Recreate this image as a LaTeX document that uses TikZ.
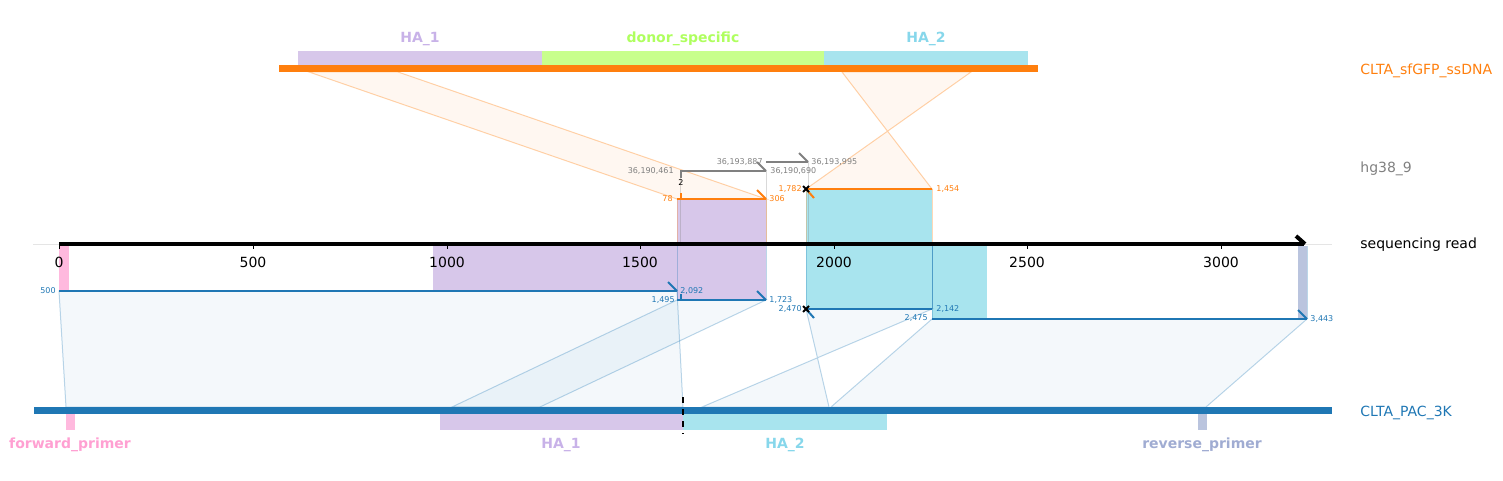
\documentclass[tikz,border=0pt]{standalone}
\usepackage{fontspec}
\setmainfont{DejaVu Sans}
\usetikzlibrary{arrows.meta}
\definecolor{ssorange}{HTML}{FF7F0E}
\definecolor{pacblue}{HTML}{1F77B4}
\definecolor{hggrey}{HTML}{808080}
\definecolor{haone}{RGB}{215,199,234}
\definecolor{haonetext}{RGB}{200,178,232}
\definecolor{donorgreen}{RGB}{200,255,140}
\definecolor{donortext}{RGB}{175,255,95}
\definecolor{hatwo}{RGB}{168,228,238}
\definecolor{hatwotext}{RGB}{135,215,235}
\definecolor{fwdpink}{RGB}{255,185,222}
\definecolor{fwdtext}{RGB}{255,160,210}
\definecolor{revgrey}{RGB}{186,196,222}
\definecolor{revtext}{RGB}{160,172,210}
\tikzset{
  lbl/.style={font=\fontsize{7}{8}\selectfont, inner sep=0pt},
  featlbl/.style={font=\fontsize{7}{8}\selectfont\bfseries, inner sep=0pt},
  tinylbl/.style={font=\fontsize{4}{5}\selectfont, inner sep=0pt},
  alnline/.style={line width=1pt},
  edgeline/.style={line width=0.5pt, draw opacity=0.3},
  orangelink/.style={fill=ssorange, fill opacity=0.06, draw=ssorange, draw opacity=0.35, line width=0.5pt},
  bluelink/.style={fill=pacblue, fill opacity=0.05, draw=pacblue, draw opacity=0.3, line width=0.5pt},
  xmark/.style={line width=1pt, black}
}
\begin{document}
\begin{tikzpicture}[x=0.5pt, y=-0.5pt]
\useasboundingbox (0,0) rectangle (1503,481);

% 1. 读段上的特征阴影
\fill[fwdpink] (59,246) rectangle (69,291);
\fill[haone] (433,246) rectangle (677,291);
\fill[haone] (677,199) rectangle (766,300);
\fill[hatwo] (806,189) rectangle (932,309);
\fill[hatwo] (932,244) rectangle (987,319);
\fill[revgrey] (1298,246) rectangle (1307,319);

% 2. 比对的竖直边界线
\foreach \x/\y in {680/171, 766/171, 808/162}
    {\draw[edgeline, hggrey] (\x,\y) -- (\x,244);}
\foreach \x/\y in {677/199, 766/199, 806/189, 932/189}
    {\draw[edgeline, ssorange] (\x,\y) -- (\x,244);}
\foreach \x/\y in {677/300, 766/300, 806/309, 932/319, 1307/319}
    {\draw[edgeline, pacblue] (\x,246) -- (\x,\y);}
\draw[pacblue, line width=0.5pt, draw opacity=0.5] (932,246) -- (932,309);

% 3. 连接到参考序列的多边形
\draw[orangelink] (309,72) -- (398,72) -- (766,199) -- (677,199) -- cycle;
\draw[orangelink] (842,72) -- (971,72) -- (806,189) -- (932,189) -- cycle;
\draw[bluelink] (59,291) -- (677,291) -- (683,407) -- (66,407) -- cycle;
\draw[bluelink] (677,300) -- (766,300) -- (540,407) -- (452,407) -- cycle;
\draw[bluelink] (806,309) -- (932,309) -- (702,407) -- (829,407) -- cycle;
\draw[bluelink] (932,319) -- (1307,319) -- (1206,407) -- (831,407) -- cycle;

% 4. 读段坐标轴
\draw[gray!20, line width=0.5pt] (33,244) -- (1332,244);
\draw[line width=2pt] (59,244) -- (1304,244);
\draw[line width=2pt] (1296,236) -- (1305,244);
\foreach \loc/\x in
    {59/0, 253/500, 447/1000, 640/1500, 834/2000, 1027/2500, 1221/3000}
    {\draw[black, line width=0.4pt] (\loc,246) -- (\loc,249);
     \node[lbl] (tick\x) at (\loc,262) {\x};
    }

% 5. 参考序列 hg38_9
\draw[alnline, hggrey] (680,171) -- (766,171);
\draw[alnline, hggrey] (757,162) -- (766,171);
\draw[alnline, hggrey] (681,171) -- (681,178);
\node[tinylbl] (hgins) at (681,183) {2};
\draw[alnline, hggrey] (766,162) -- (808,162);
\draw[alnline, hggrey] (799,153) -- (808,162);
\node[tinylbl, hggrey, anchor=east] (hgA) at (674,171) {36,190,461};
\node[tinylbl, hggrey, anchor=west] (hgB) at (770,171) {36,190,690};
\node[tinylbl, hggrey, anchor=east] (hgC) at (763,162) {36,193,887};
\node[tinylbl, hggrey, anchor=west] (hgD) at (811,162) {36,193,995};

% 6. 供体 CLTA_sfGFP_ssDNA 的比对
\draw[alnline, ssorange] (677,199) -- (766,199);
\draw[alnline, ssorange] (681,193) -- (681,199);
\draw[alnline, ssorange] (757,190) -- (766,199);
\draw[alnline, ssorange] (806,189) -- (932,189);
\draw[alnline, ssorange] (806,189) -- (814,198);
\draw[xmark] (803,186) -- (809,192) (803,192) -- (809,186);
\node[tinylbl, ssorange, anchor=east] (ssA) at (673,199) {78};
\node[tinylbl, ssorange, anchor=west] (ssB) at (769,199) {306};
\node[tinylbl, ssorange, anchor=east] (ssC) at (802,189) {1,782};
\node[tinylbl, ssorange, anchor=west] (ssD) at (936,189) {1,454};

% 7. 质粒 CLTA_PAC_3K 的比对
\draw[alnline, pacblue] (59,291) -- (677,291);
\draw[alnline, pacblue] (668,282) -- (677,291);
\draw[alnline, pacblue] (677,300) -- (766,300);
\draw[alnline, pacblue] (681,294) -- (681,300);
\draw[alnline, pacblue] (757,291) -- (766,300);
\draw[alnline, pacblue] (806,309) -- (932,309);
\draw[alnline, pacblue] (806,309) -- (814,318);
\draw[xmark] (803,306) -- (809,312) (803,312) -- (809,306);
\draw[alnline, pacblue] (932,319) -- (1307,319);
\draw[alnline, pacblue] (1298,310) -- (1307,319);
\node[tinylbl, pacblue, anchor=east] (pacA) at (56,291) {500};
\node[tinylbl, pacblue, anchor=west] (pacB) at (680,291) {2,092};
\node[tinylbl, pacblue, anchor=east] (pacC) at (675,300) {1,495};
\node[tinylbl, pacblue, anchor=west] (pacD) at (769,300) {1,723};
\node[tinylbl, pacblue, anchor=east] (pacE) at (802,309) {2,470};
\node[tinylbl, pacblue, anchor=west] (pacF) at (936,309) {2,142};
\node[tinylbl, pacblue, anchor=east] (pacG) at (928,318) {2,475};
\node[tinylbl, pacblue, anchor=west] (pacH) at (1310,319) {3,443};

% 8. 上方的 ssDNA 参考条
\fill[haone] (298,51) rectangle (542,65);
\fill[donorgreen] (542,51) rectangle (824,65);
\fill[hatwo] (824,51) rectangle (1028,65);
\fill[ssorange] (279,65) rectangle (1038,72);
\node[featlbl, haonetext] (topHAone) at (420,39) {HA\_1};
\node[featlbl, donortext] (topdonor) at (683,39) {donor\_specific};
\node[featlbl, hatwotext] (topHAtwo) at (926,39) {HA\_2};

% 9. 下方的质粒参考条
\fill[fwdpink] (66,414) rectangle (75,430);
\fill[haone] (440,414) rectangle (683,430);
\fill[hatwo] (683,414) rectangle (887,430);
\fill[revgrey] (1198,414) rectangle (1207,430);
\fill[pacblue] (34,407) rectangle (1332,414);
\draw[black, dashed, line width=0.6pt] (683,397) -- (683,434);
\node[featlbl, fwdtext] (botfwd) at (70,445) {forward\_primer};
\node[featlbl, haonetext] (botHAone) at (561,445) {HA\_1};
\node[featlbl, hatwotext] (botHAtwo) at (785,445) {HA\_2};
\node[featlbl, revtext] (botrev) at (1202,445) {reverse\_primer};

% 10. 右侧的名称
\node[lbl, ssorange, anchor=west] (nameSS) at (1360,71) {CLTA\_sfGFP\_ssDNA};
\node[lbl, hggrey, anchor=west] (nameHG) at (1360,169) {hg38\_9};
\node[lbl, black, anchor=west] (nameRead) at (1360,245) {sequencing read};
\node[lbl, pacblue, anchor=west] (namePAC) at (1360,413) {CLTA\_PAC\_3K};
\end{tikzpicture}
\end{document}
